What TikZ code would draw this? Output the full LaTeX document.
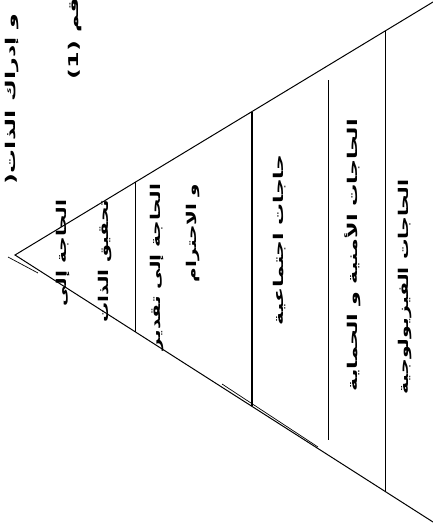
\documentclass[tikz,border=0pt]{standalone}
\usepackage{fontspec}
\usepackage{graphicx}
\usetikzlibrary{calc}
\TeXXeTstate=1
\newfontfamily\arabicfont[Script=Arabic]{DejaVu Sans}
\newcommand\artext[2]{\resizebox{#1}{\height}{\arabicfont\bfseries\fontsize{13.5}{15}\selectfont #2}}
\begin{document}
\begin{tikzpicture}[x=1pt,y=-1pt,
  edge/.style={line width=1pt,black},
  divline/.style={line width=1pt,black},
  heavyline/.style={line width=1.6pt,black},
  ghost/.style={line width=0.7pt,black},
  lbl/.style={rotate=90,inner sep=0pt,outer sep=0pt}]
\useasboundingbox (0,0) rectangle (433,531);
\clip (0,0) rectangle (433,531);
% pyramid outline (apex at left)
\coordinate (A) at (15,255);
\coordinate (T) at (433,2);
\coordinate (B) at (433,522);
\draw[edge] (T) -- (A) -- (B);
% dividers
\coordinate (d1t) at ($(A)!0.2871!(T)$);
\coordinate (d1b) at ($(A)!0.2871!(B)$);
\coordinate (d2t) at ($(A)!0.567!(T)$);
\coordinate (d2b) at ($(A)!0.567!(B)$);
\coordinate (d3t) at (328,80);
\coordinate (d3b) at (328,440);
\coordinate (d4t) at ($(A)!0.8852!(T)$);
\coordinate (d4b) at ($(A)!0.8852!(B)$);
\draw[divline] (d1t) -- (d1b);
\draw[heavyline] (d2t) -- (d2b);
\draw[divline] (d3t) -- (d3b);
\draw[divline] (d4t) -- (d4b);
% scan doubling of the lower edge
\coordinate (g1a) at (8,257);
\coordinate (g1b) at (38,273);
\coordinate (g2a) at (222,384);
\coordinate (g2b) at (318,447);
\draw[ghost] (g1a) -- (g1b);
\draw[ghost] (g2a) -- (g2b);
% caption (cut off at the top, as in the scan)
\node[lbl,anchor=west] (cap1) at (12,184) {\artext{170pt}{\beginR و إدراك الذات\kern0pt(\endR}};
\node[lbl,anchor=west] (cap2) at (75,79) {\artext{95pt}{\beginR رقم (1)\endR}};
% level labels
\node[lbl] (s1a) at (63,253) {\artext{106pt}{\beginR الحاجة إلى\endR}};
\node[lbl] (s1b) at (105,261) {\artext{123pt}{\beginR تحقيق الذات\endR}};
\node[lbl] (s2a) at (157,267) {\artext{166pt}{\beginR الحاجة إلى تقدير\endR}};
\node[lbl] (s2b) at (193,233) {\artext{98pt}{\beginR و الاحترام\endR}};
\node[lbl] (s3) at (280,240) {\artext{170pt}{\beginR حاجات اجتماعية\endR}};
\node[lbl] (s4) at (353,255) {\artext{272pt}{\beginR الحاجات الأمنية و الحماية\endR}};
\node[lbl] (s5) at (405,287) {\artext{215pt}{\beginR الحاجات الفيزيولوجية\endR}};
\end{tikzpicture}
\end{document}
